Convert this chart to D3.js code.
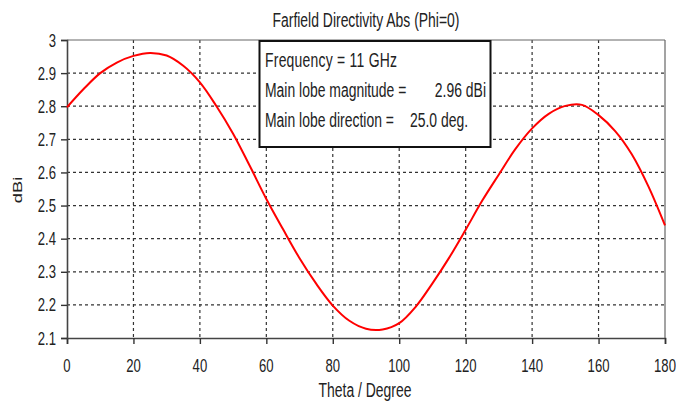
<!DOCTYPE html>
<html><head><meta charset="utf-8">
<script src="https://cdn.jsdelivr.net/npm/d3@7"></script>
<style>
html,body{margin:0;padding:0;background:#fff;}
text{font-family:"Liberation Sans",Arial,sans-serif;fill:#222;}
</style></head>
<body>
<svg id="c" width="676" height="403"></svg>
<script>
const title = "Farfield Directivity Abs (Phi=0)";
const xLabel = "Theta / Degree";
const yLabel = "dBi";
const thetaTicks = [0,20,40,60,80,100,120,140,160,180];
const dbiTicks = [2.1,2.2,2.3,2.4,2.5,2.6,2.7,2.8,2.9,3];
const dbiTickLabels = ["2.1","2.2","2.3","2.4","2.5","2.6","2.7","2.8","2.9","3"];
const theta = [0,5,10,15,20,25,30,35,40,45,50,55,60,65,70,75,80,85,90,95,100,105,110,115,120,125,130,135,140,145,150,155,160,165,170,175,180];
const dbi = [2.797,2.852,2.900,2.932,2.952,2.961,2.953,2.922,2.872,2.800,2.717,2.620,2.520,2.429,2.341,2.264,2.198,2.152,2.128,2.126,2.145,2.195,2.265,2.342,2.427,2.515,2.594,2.671,2.733,2.777,2.801,2.804,2.773,2.725,2.655,2.558,2.440];
const legendLines = [
  {label:"Frequency = 11 GHz", value:""},
  {label:"Main lobe magnitude =", value:"2.96 dBi"},
  {label:"Main lobe direction =", value:"25.0 deg."}
];

const svg = d3.select("#c");
const L=67, R=665, T=40, B=338;
const x = d3.scaleLinear().domain([0,180]).range([L,R]);
const y = d3.scaleLinear().domain([2.1,3]).range([B,T]);
const SX = 0.82, SY = 1.15;
function txt(g, s, px, py, size, anchor){
  return g.append("text").attr("transform",`translate(${px},${py}) scale(${SX},${SY})`)
    .attr("font-size",size).attr("text-anchor",anchor||"start").text(s);
}

// grid
const grid = svg.append("g");
grid.selectAll("line.v").data(thetaTicks.slice(1,-1)).join("line")
  .attr("x1",d=>x(d)).attr("x2",d=>x(d)).attr("y1",T).attr("y2",B)
  .attr("stroke","#333").attr("stroke-width",1.2).attr("stroke-dasharray","3,3");
grid.selectAll("line.h").data(dbiTicks.slice(1,-1)).join("line")
  .attr("y1",d=>y(d)).attr("y2",d=>y(d)).attr("x1",L).attr("x2",R)
  .attr("stroke","#333").attr("stroke-width",1.2).attr("stroke-dasharray","3,3");

// frame top/right
svg.append("line").attr("x1",L).attr("x2",R).attr("y1",T).attr("y2",T).attr("stroke","#666").attr("stroke-width",1);
svg.append("line").attr("x1",R).attr("x2",R).attr("y1",T).attr("y2",B).attr("stroke","#666").attr("stroke-width",1.2);

// axes
const ax = svg.append("g").attr("transform",`translate(0,${B})`)
  .call(d3.axisBottom(x).tickValues(thetaTicks).tickSize(6).tickFormat(""));
const ay = svg.append("g").attr("transform",`translate(${L},0)`)
  .call(d3.axisLeft(y).tickValues(dbiTicks).tickSize(6).tickFormat(""));
[ax,ay].forEach(a=>{
  a.select(".domain").attr("stroke","#444").attr("stroke-width",1.6);
  a.selectAll(".tick line").attr("stroke","#333").attr("stroke-width",1.4);
});
thetaTicks.forEach(t=>txt(svg,String(t),x(t),372,16,"middle"));
dbiTicks.forEach((v,i)=>txt(svg,dbiTickLabels[i],56,y(v)+6.5,16,"end"));

// curve
const line = d3.line().x((d,i)=>x(theta[i])).y(d=>y(d)).curve(d3.curveCatmullRom);
svg.append("path").datum(dbi).attr("d",line).attr("fill","none")
  .attr("stroke","#ff0000").attr("stroke-width",2);

// legend box
const lg = svg.append("g");
lg.append("rect").attr("x",259.5).attr("y",41).attr("width",231).attr("height",106)
  .attr("fill","#fff").attr("stroke","#111").attr("stroke-width",2);
legendLines.forEach((l,i)=>{
  const by = 67 + i*30;
  const t = txt(lg,l.label,265,by,17,"start");
  if(i===0) t.attr("textLength",132/SX).attr("lengthAdjust","spacing");
  if(l.value){
    if(i===1) txt(lg,l.value,486,by,17,"end");
    else txt(lg,l.value,410,by,17,"start");
  }
});

// title & labels
txt(svg,title,366,27,17,"middle");
txt(svg,xLabel,365,397,17,"middle");
svg.append("text").attr("transform",`translate(22,190) rotate(-90) scale(${SY},${SX})`)
  .attr("font-size",16).attr("text-anchor","middle").text(yLabel);
</script>
</body></html>
